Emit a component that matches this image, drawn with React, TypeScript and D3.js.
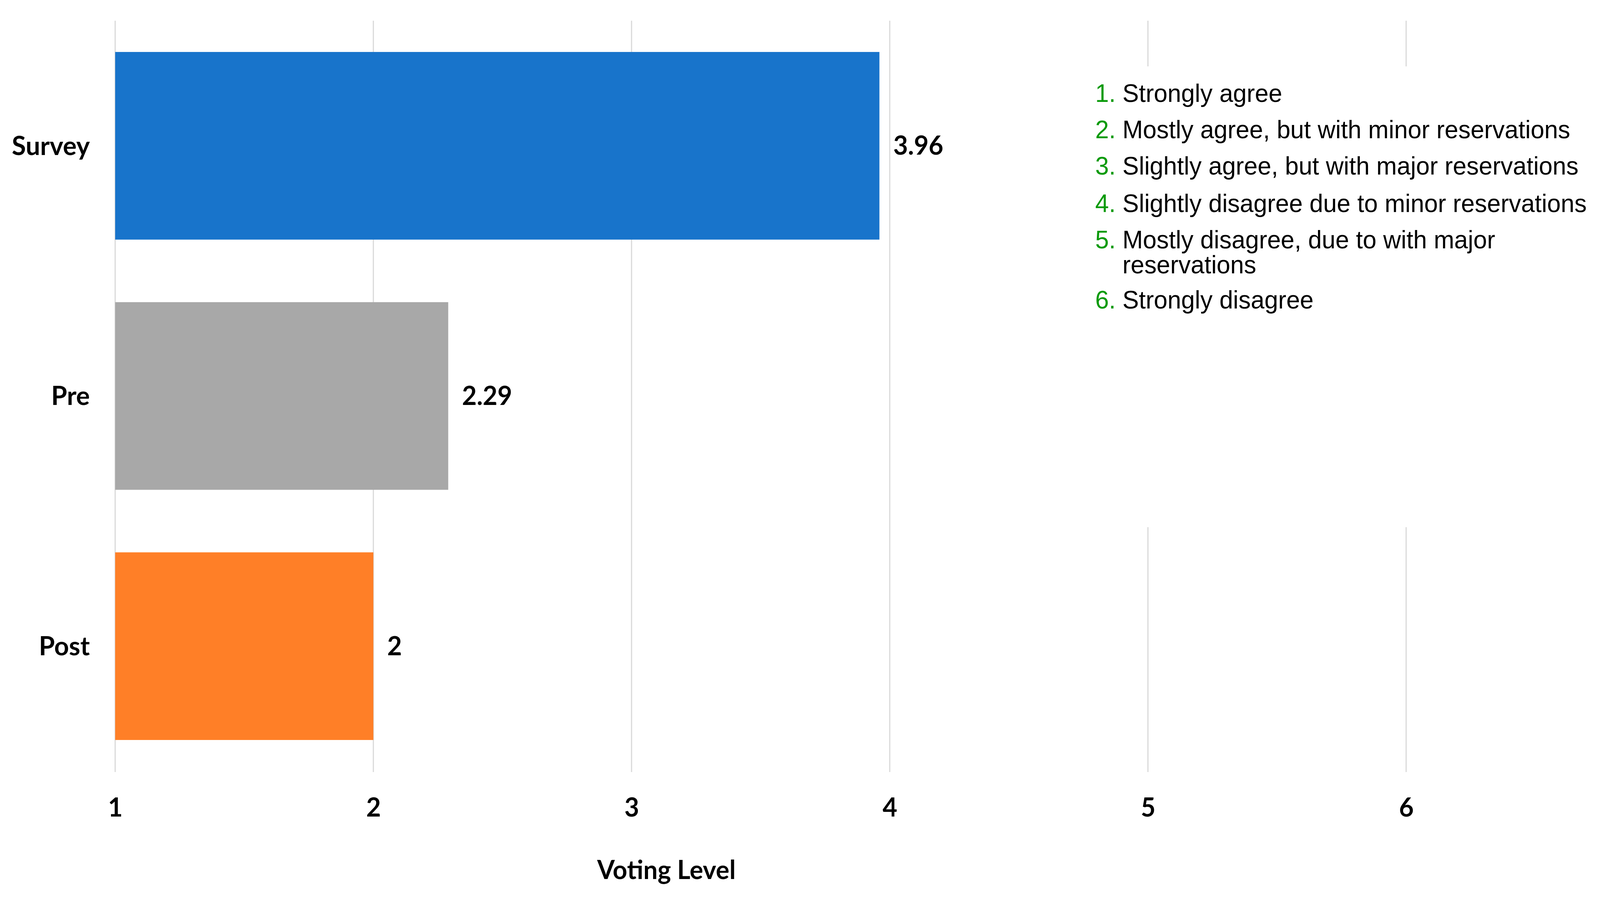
import React, { useEffect, useRef } from "react";
import * as d3 from "d3";

// chart data
const categories = ["Survey", "Pre", "Post"];
const values = [3.96, 2.29, 2];
const barColors = ["#1874CB", "#A8A8A8", "#FF7F27"];
const xTicks = [1, 2, 3, 4, 5, 6];
const legendNumbers = ["1.", "2.", "3.", "4.", "5.", "6."];
const legendLines = [
  ["Strongly agree"],
  ["Mostly agree, but with minor reservations"],
  ["Slightly agree, but with major reservations"],
  ["Slightly disagree due to minor reservations"],
  ["Mostly disagree, due to with major", "reservations"],
  ["Strongly disagree"],
];
const xTitle = "Voting Level";

const W = 4168;
const H = 2297;
const boldFont = "Lato, 'Open Sans', sans-serif";
const legendFont = "'Liberation Sans', Arial, sans-serif";

export default function App() {
  const ref = useRef<SVGSVGElement>(null);

  useEffect(() => {
    document.body.style.margin = "0";
    document.body.style.overflow = "hidden";
    var svg = d3.select(ref.current);
    svg.selectAll("*").remove();

    var xScale = d3.scaleLinear().domain([1, 6]).range([300, 3663]);
    var yScale = d3
      .scaleBand()
      .domain(categories)
      .range([53, 1975])
      .paddingInner(0.25)
      .paddingOuter(0.125);

    // grid lines
    svg
      .append("g")
      .attr("class", "grid")
      .selectAll("line")
      .data(xTicks)
      .join("line")
      .attr("x1", (d) => xScale(d))
      .attr("x2", (d) => xScale(d))
      .attr("y1", 53)
      .attr("y2", 1977)
      .attr("stroke", "#D9D9D9")
      .attr("stroke-width", 3);

    // bars
    svg
      .append("g")
      .selectAll("rect")
      .data(values)
      .join("rect")
      .attr("x", xScale(1))
      .attr("y", (d, i) => yScale(categories[i])!)
      .attr("width", (d) => xScale(d) - xScale(1))
      .attr("height", yScale.bandwidth())
      .attr("fill", (d, i) => barColors[i]);

    // value labels
    svg
      .append("g")
      .selectAll("text")
      .data(values)
      .join("text")
      .attr("x", (d) => xScale(d) + 36)
      .attr("y", (d, i) => yScale(categories[i])! + yScale.bandwidth() / 2)
      .attr("dy", "0.35em")
      .attr("font-family", boldFont)
      .attr("font-weight", "bold")
      .attr("font-size", 66)
      .text((d) => String(d));

    // category labels
    svg
      .append("g")
      .selectAll("text")
      .data(categories)
      .join("text")
      .attr("x", 234)
      .attr("y", (d) => yScale(d)! + yScale.bandwidth() / 2)
      .attr("dy", "0.35em")
      .attr("text-anchor", "end")
      .attr("font-family", boldFont)
      .attr("font-weight", "bold")
      .attr("font-size", 67)
      .text((d) => d);

    // x axis tick labels
    var xAxis = d3
      .axisBottom(xScale)
      .tickValues(xTicks)
      .tickSize(0)
      .tickPadding(0)
      .tickFormat(d3.format("d") as any);
    var gx = svg
      .append("g")
      .attr("transform", `translate(0, 2068)`)
      .call(xAxis as any);
    gx.select(".domain").remove();
    gx.selectAll("text")
      .attr("dy", "0.35em")
      .attr("font-family", boldFont)
      .attr("font-weight", "bold")
      .attr("font-size", 66)
      .attr("fill", "#000");

    svg
      .append("text")
      .attr("x", 1736)
      .attr("y", 2228)
      .attr("dy", "0.35em")
      .attr("text-anchor", "middle")
      .attr("font-family", boldFont)
      .attr("font-weight", "bold")
      .attr("font-size", 66)
      .text(xTitle);

    // legend box (covers grid lines)
    var lg = svg.append("g").attr("class", "legend");
    lg.append("rect")
      .attr("x", 2830)
      .attr("y", 170)
      .attr("width", W - 2830)
      .attr("height", 1180)
      .attr("fill", "#fff");

    var lineStarts = [239, 332, 425, 521, 614, 768];
    legendLines.forEach((lines, i) => {
      var y0 = lineStarts[i];
      lg.append("text")
        .attr("x", 2853)
        .attr("y", y0)
        .attr("dy", "0.35em")
        .attr("font-family", legendFont)
        .attr("font-size", 64)
        .attr("fill", "#0A9A0A")
        .text(legendNumbers[i]);
      lines.forEach((t, j) => {
        lg.append("text")
          .attr("x", 2924)
          .attr("y", y0 + j * 64)
          .attr("dy", "0.35em")
          .attr("font-family", legendFont)
          .attr("font-size", 64)
          .attr("fill", "#000")
          .text(t);
      });
    });
  }, []);

  return (
    <svg
      ref={ref}
      viewBox={`0 0 ${W} ${H}`}
      preserveAspectRatio="none"
      style={{
        position: "fixed",
        left: 0,
        top: 0,
        width: "100vw",
        height: "100vh",
        display: "block",
        background: "#fff",
      }}
    />
  );
}
